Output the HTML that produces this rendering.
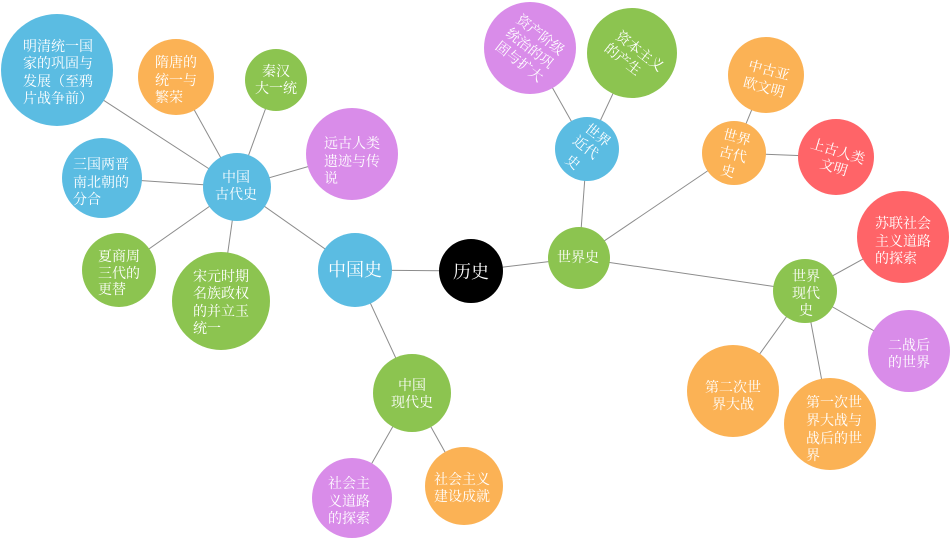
<!DOCTYPE html>
<html><head><meta charset="utf-8"><style>
html,body{margin:0;padding:0;background:#fff;width:950px;height:538px;overflow:hidden}
svg{display:block}
text{font-family:"Liberation Serif","Noto Serif CJK SC",serif;font-size:14px;fill:#fff}
.c{text-anchor:middle}
.big{font-size:18px}
</style></head><body>
<svg width="950" height="538" viewBox="0 0 950 538" xmlns="http://www.w3.org/2000/svg">
<g stroke="#8c8c8c" stroke-width="1" fill="none">
<line x1="471" y1="271" x2="355" y2="270"/>
<line x1="471" y1="271" x2="579" y2="258"/>
<line x1="355" y1="270" x2="237" y2="187"/>
<line x1="355" y1="270" x2="412" y2="393"/>
<line x1="237" y1="187" x2="57" y2="70"/>
<line x1="237" y1="187" x2="176" y2="77"/>
<line x1="237" y1="187" x2="276" y2="80"/>
<line x1="237" y1="187" x2="352" y2="154"/>
<line x1="237" y1="187" x2="102" y2="178"/>
<line x1="237" y1="187" x2="119" y2="270"/>
<line x1="237" y1="187" x2="221" y2="301"/>
<line x1="412" y1="393" x2="352" y2="498"/>
<line x1="412" y1="393" x2="464" y2="486"/>
<line x1="579" y1="258" x2="587" y2="149"/>
<line x1="579" y1="258" x2="734" y2="153"/>
<line x1="579" y1="258" x2="805" y2="291"/>
<line x1="587" y1="149" x2="530" y2="48"/>
<line x1="587" y1="149" x2="632" y2="53"/>
<line x1="734" y1="153" x2="766" y2="75"/>
<line x1="734" y1="153" x2="836" y2="157"/>
<line x1="805" y1="291" x2="903" y2="237"/>
<line x1="805" y1="291" x2="909" y2="351"/>
<line x1="805" y1="291" x2="733" y2="391"/>
<line x1="805" y1="291" x2="830" y2="424"/>
</g>
<g>
<circle cx="57" cy="70" r="56" fill="#5bbce2"/>
<circle cx="176" cy="77" r="38" fill="#fbb255"/>
<circle cx="276" cy="80" r="31" fill="#8cc450"/>
<circle cx="237" cy="187" r="34" fill="#5bbce2"/>
<circle cx="102" cy="178" r="40" fill="#5bbce2"/>
<circle cx="119" cy="270" r="37" fill="#8cc450"/>
<circle cx="221" cy="301" r="49" fill="#8cc450"/>
<circle cx="352" cy="154" r="46" fill="#d98ce9"/>
<circle cx="355" cy="270" r="37" fill="#5bbce2"/>
<circle cx="471" cy="271" r="32" fill="#000"/>
<circle cx="579" cy="258" r="31" fill="#8cc450"/>
<circle cx="587" cy="149" r="32" fill="#5bbce2"/>
<circle cx="530" cy="48" r="46" fill="#d98ce9"/>
<circle cx="632" cy="53" r="45" fill="#8cc450"/>
<circle cx="734" cy="153" r="32" fill="#fbb255"/>
<circle cx="766" cy="75" r="38" fill="#fbb255"/>
<circle cx="836" cy="157" r="38" fill="#ff6468"/>
<circle cx="903" cy="237" r="46" fill="#ff6468"/>
<circle cx="805" cy="291" r="32" fill="#8cc450"/>
<circle cx="909" cy="351" r="41" fill="#d98ce9"/>
<circle cx="733" cy="391" r="46" fill="#fbb255"/>
<circle cx="830" cy="424" r="46" fill="#fbb255"/>
<circle cx="412" cy="393" r="39" fill="#8cc450"/>
<circle cx="352" cy="498" r="40" fill="#d98ce9"/>
<circle cx="464" cy="486" r="39" fill="#fbb255"/>
</g>
<g>
<text x="23" y="51">明清统一国</text>
<text x="23" y="68">家的巩固与</text>
<text x="23" y="86">发展（至鸦</text>
<text x="23" y="103">片战争前）</text>

<text x="155" y="67">隋唐的</text>
<text x="155" y="85">统一与</text>
<text x="155" y="102">繁荣</text>

<text class="c" x="276" y="76">秦汉</text>
<text class="c" x="276" y="93">大一统</text>

<text class="c" x="236" y="182">中国</text>
<text class="c" x="236" y="199">古代史</text>

<text x="73" y="169">三国两晋</text>
<text x="73" y="187">南北朝的</text>
<text x="73" y="204">分合</text>

<text x="98" y="261">夏商周</text>
<text x="98" y="278">三代的</text>
<text x="98" y="294">更替</text>

<text x="193" y="281">宋元时期</text>
<text x="193" y="298">名族政权</text>
<text x="193" y="316">的并立玉</text>
<text x="193" y="333">统一</text>

<text x="324" y="148">远古人类</text>
<text x="324" y="166">遗迹与传</text>
<text x="324" y="183">说</text>

<text class="c big" x="355" y="276">中国史</text>
<text class="c big" x="471" y="278">历史</text>
<text class="c" x="578" y="262">世界史</text>

<text class="c" x="598" y="140" transform="rotate(38 598 135)">世界</text>
<text class="c" x="586" y="152" transform="rotate(38 586 147)">近代</text>
<text class="c" x="573" y="167" transform="rotate(38 573 162)">史</text>

<text class="c" x="540.5" y="39.6" transform="rotate(38 540.5 34.6)">资产阶级</text>
<text class="c" x="530" y="53" transform="rotate(38 530 48)">统治的巩</text>
<text class="c" x="519.5" y="66.4" transform="rotate(38 519.5 61.4)">固与扩大</text>

<text class="c" x="640" y="56" transform="rotate(38 640 51)">资本主义</text>
<text class="c" x="623" y="64" transform="rotate(38 623 59)">的产生</text>

<text class="c" x="737" y="142" transform="rotate(15 737 137)">世界</text>
<text class="c" x="733" y="159" transform="rotate(15 733 154)">古代</text>
<text class="c" x="728" y="176" transform="rotate(15 728 171)">史</text>

<text class="c" x="769" y="75" transform="rotate(15 769 70)">中古亚</text>
<text class="c" x="764" y="92" transform="rotate(15 764 87)">欧文明</text>

<text class="c" x="838" y="156" transform="rotate(17 838 151)">上古人类</text>
<text class="c" x="834" y="172" transform="rotate(17 834 167)">文明</text>

<text x="875" y="228">苏联社会</text>
<text x="875" y="246">主义道路</text>
<text x="875" y="263">的探索</text>

<text class="c" x="806" y="281">世界</text>
<text class="c" x="806" y="298">现代</text>
<text class="c" x="806" y="315">史</text>

<text class="c" x="909" y="350">二战后</text>
<text class="c" x="909" y="367">的世界</text>

<text class="c" x="733" y="392">第二次世</text>
<text class="c" x="733" y="409">界大战</text>

<text x="806" y="407">第一次世</text>
<text x="806" y="425">界大战与</text>
<text x="806" y="443">战后的世</text>
<text x="806" y="460">界</text>

<text class="c" x="412" y="390">中国</text>
<text class="c" x="412" y="407">现代史</text>

<text class="c" x="349" y="488">社会主</text>
<text class="c" x="349" y="506">义道路</text>
<text class="c" x="349" y="523">的探索</text>

<text class="c" x="462" y="484">社会主义</text>
<text class="c" x="462" y="501">建设成就</text>
</g>
</svg>
</body></html>
